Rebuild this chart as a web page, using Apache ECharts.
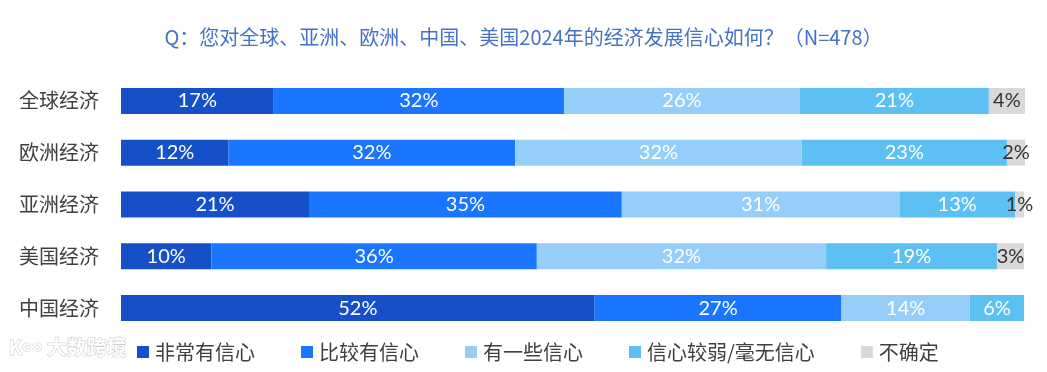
<!DOCTYPE html>
<html>
<head>
<meta charset="utf-8">
<script src="https://cdn.jsdelivr.net/npm/echarts@6/dist/echarts.min.js"></script>
<style>
html,body{margin:0;padding:0;background:#fff;}
#main{width:1047px;height:372px;}
</style>
</head>
<body>
<div id="main"></div>
<script>
const titleText = 'Q：您对全球、亚洲、欧洲、中国、美国2024年的经济发展信心如何？（N=478）';
const categories = ['全球经济', '欧洲经济', '亚洲经济', '美国经济', '中国经济'];
const seriesNames = ['非常有信心', '比较有信心', '有一些信心', '信心较弱/毫无信心', '不确定'];
const veryConfident = [16.9, 11.9, 20.8, 10.0, 52.4];
const fairlyConfident = [32.1, 31.7, 34.6, 36.0, 27.3];
const someConfident = [26.1, 31.7, 30.7, 32.0, 14.2];
const weakConfident = [20.9, 22.7, 12.8, 18.9, 6.0];
const unsure = [4.0, 2.0, 1.0, 3.0, 0];
const colors = ['#1650C8', '#1A75FF', '#96CEFA', '#5CC1F2', '#D9D9D9'];

const allData = [veryConfident, fairlyConfident, someConfident, weakConfident, unsure];

const chart = echarts.init(document.getElementById('main'));
const labelFont = 'Lato, "Noto Sans", sans-serif';
const cjkFont = '"Noto Sans CJK SC", sans-serif';

chart.setOption({
  animation: false,
  title: {
    text: titleText,
    left: 'center',
    top: 22,
    textStyle: { color: '#4472C4', fontSize: 20, fontWeight: 'normal', fontFamily: cjkFont }
  },
  grid: { left: 121, right: 22, top: 75, bottom: 38 },
  xAxis: {
    type: 'value', min: 0, max: 100, show: false
  },
  yAxis: {
    type: 'category', data: categories, inverse: true,
    axisLine: { show: false }, axisTick: { show: false },
    axisLabel: { color: '#404040', fontSize: 20, margin: 22, fontFamily: cjkFont }
  },
  legend: {
    left: 132, top: 337,
    itemWidth: 12, itemHeight: 12, itemGap: 46,
    icon: 'rect',
    textStyle: { color: '#404040', fontSize: 20, fontFamily: cjkFont, padding: [0, 0, 0, 1] },
    data: seriesNames
  },
  graphic: [{
    type: 'text', left: 8, top: 337, silent: true,
    style: { text: 'K∞ 大数跨境', fill: 'rgba(255,255,255,0.9)', stroke: 'rgba(170,170,170,0.6)', lineWidth: 1,
      font: 'bold 20px "Noto Sans CJK SC", sans-serif' }
  }],
  series: allData.map((arr, i) => ({
    name: seriesNames[i],
    type: 'bar',
    stack: 'total',
    barWidth: 26,
    data: arr,
    itemStyle: { color: colors[i] },
    label: {
      show: true,
      position: 'inside',
      color: i === 4 ? '#333333' : '#ffffff',
      fontSize: 20,
      fontFamily: labelFont,
      formatter: p => p.value > 0 ? Math.round(p.value) + '%' : ''
    },
    labelLayout: { hideOverlap: false }
  }))
});
</script>
</body>
</html>
